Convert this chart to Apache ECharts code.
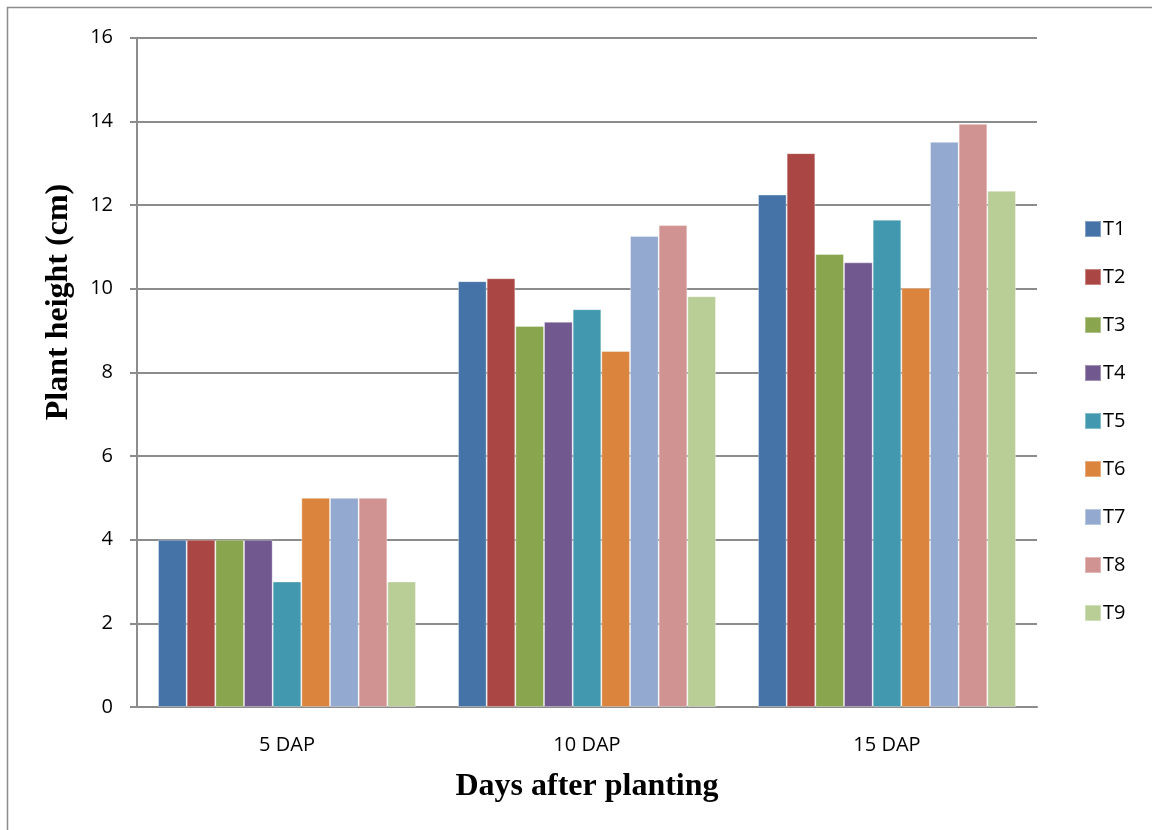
<!DOCTYPE html>
<html>
<head>
<meta charset="utf-8">
<script src="https://cdn.jsdelivr.net/npm/echarts@6/dist/echarts.min.js"></script>
<style>
  html, body { margin: 0; padding: 0; background: #fff; }
  #chart { width: 1152px; height: 830px; }
</style>
</head>
<body>
<div id="chart"></div>
<script>
// Plant height (cm) per treatment at each sampling date
const categories = ['5 DAP', '10 DAP', '15 DAP'];
const treatments = ['T1', 'T2', 'T3', 'T4', 'T5', 'T6', 'T7', 'T8', 'T9'];
const T1 = [4, 10.18, 12.25];
const T2 = [4, 10.25, 13.24];
const T3 = [4, 9.11, 10.83];
const T4 = [4, 9.21, 10.63];
const T5 = [3, 9.51, 11.65];
const T6 = [5, 8.51, 10.02];
const T7 = [5, 11.26, 13.51];
const T8 = [5, 11.52, 13.94];
const T9 = [3, 9.82, 12.34];
const yTicks = [0, 2, 4, 6, 8, 10, 12, 14, 16];

const seriesValues = [T1, T2, T3, T4, T5, T6, T7, T8, T9];
const colors = ['#4572A7', '#AA4643', '#89A54E', '#71588F', '#4198AF',
                '#DB843D', '#93A9CF', '#D19392', '#B9CD96'];

const chart = echarts.init(document.getElementById('chart'), null, { renderer: 'canvas' });

const tickFont = '"Open Sans", "Liberation Sans", sans-serif';
const titleFont = '"Liberation Serif", "DejaVu Serif", serif';

chart.setOption({
  animation: false,
  backgroundColor: '#fff',
  color: colors,
  grid: { left: 137, right: 115, top: 37.7, bottom: 123, containLabel: false },
  legend: {
    orient: 'vertical',
    left: 1079,
    top: 214,
    itemWidth: 16,
    itemHeight: 16,
    itemGap: 28,
    icon: 'rect',
    data: treatments,
    textStyle: { fontFamily: tickFont, fontSize: 20, color: '#000', lineHeight: 20, padding: [0, 0, 0, -3] }
  },
  xAxis: {
    type: 'category',
    data: categories,
    name: 'Days after planting',
    nameLocation: 'middle',
    nameGap: 64,
    nameTextStyle: { fontFamily: titleFont, fontSize: 32, fontWeight: 'bold', color: '#000' },
    axisLine: { lineStyle: { color: '#8c8c8c', width: 2 } },
    axisTick: { show: false },
    axisLabel: { fontFamily: tickFont, fontSize: 20, color: '#000', margin: 28 }
  },
  yAxis: {
    type: 'value',
    min: yTicks[0],
    max: yTicks[yTicks.length - 1],
    interval: 2,
    axisLine: { show: true, lineStyle: { color: '#8c8c8c', width: 2 } },
    axisTick: { show: true, length: 7, lineStyle: { color: '#8c8c8c', width: 2 } },
    axisLabel: { fontFamily: tickFont, fontSize: 20, color: '#000', margin: 24 },
    splitLine: { lineStyle: { color: '#8c8c8c', width: 2 } }
  },
  graphic: [
    {
      type: 'rect',
      shape: { x: 7.5, y: 7.5, width: 1200, height: 900 },
      style: { fill: 'none', stroke: '#8c8c8c', lineWidth: 1.5 },
      silent: true
    },
    {
      type: 'text',
      x: 59,
      y: 302,
      rotation: Math.PI / 2,
      style: {
        text: 'Plant height (cm)',
        fontFamily: titleFont,
        fontSize: 32,
        fontWeight: 'bold',
        fill: '#000',
        align: 'center',
        verticalAlign: 'middle'
      }
    }
  ],
  series: treatments.map((name, i) => ({
    name: name,
    type: 'bar',
    data: seriesValues[i],
    barGap: '0%',
    barCategoryGap: '14%',
    itemStyle: { color: colors[i], borderColor: 'rgba(255,255,255,0.35)', borderWidth: 1 }
  }))
});
</script>
</body>
</html>
